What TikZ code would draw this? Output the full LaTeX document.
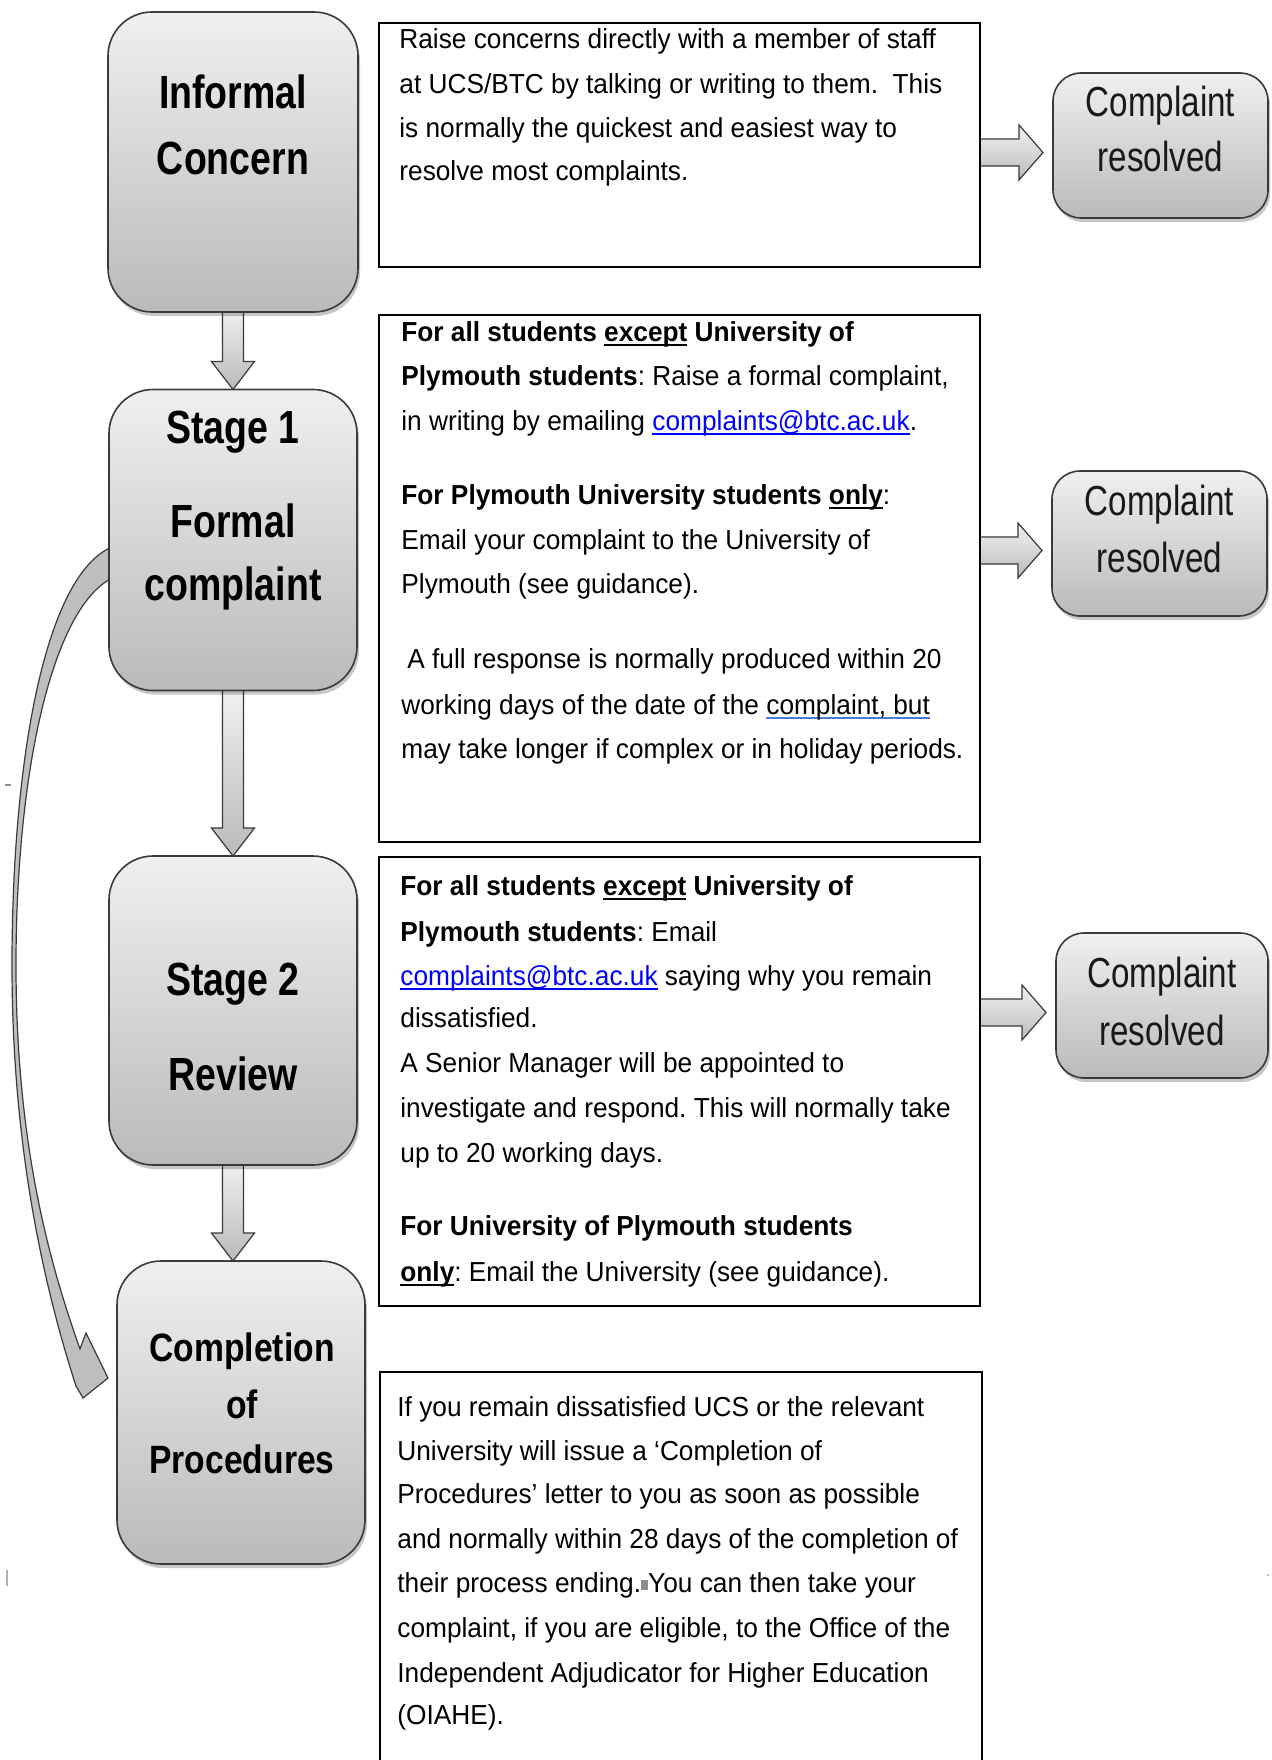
\documentclass[tikz,border=0pt]{standalone}
\usepackage{fontspec}
\usetikzlibrary{calc,shadows}
\newfontfamily\bodyf{Liberation Sans}[FakeStretch=0.955]
\newfontfamily\boxf{Liberation Sans}[FakeStretch=0.806]
\newfontfamily\boxfb{Liberation Sans}[FakeStretch=0.85]
\newfontfamily\resf{Liberation Sans}[FakeStretch=0.79]
\definecolor{linkblue}{HTML}{0000FF}
\definecolor{gramblue}{HTML}{4A7BD8}
\definecolor{edgegray}{HTML}{3A3A3A}
\pgfdeclarelayer{bg}
\pgfdeclarelayer{background}
\pgfsetlayers{bg,background,main}
\frenchspacing
\newcommand\myul[1]{\leavevmode\setbox0\hbox{#1}\rlap{\rule[-2.6pt]{\wd0}{0.9pt}}\box0\relax}
\newcommand\gramul[1]{\leavevmode\setbox0\hbox{#1}\rlap{\textcolor{gramblue}{\rule[-2.6pt]{\wd0}{1pt}}}\box0\relax}
\newcommand\mailaddr{\textcolor{linkblue}{\myul{complaints@btc.ac.uk}}}
\newcommand\tline[4]{\node[btxt] (#1) at (#2,#3) {#4};}
\newcommand\fatdown[2]{%
  \path[fatarrow] let \p1=(#1.south), \p2=(#2.north) in
  (\x1-5.25pt,\y1+3pt) -- (\x1-5.25pt,\y2+14pt) -- (\x1-10.75pt,\y2+14pt) -- (\x1,\y2)
  -- (\x1+10.75pt,\y2+14pt) -- (\x1+5.25pt,\y2+14pt) -- (\x1+5.25pt,\y1+3pt) -- cycle;}
\newcommand\fatright[2]{%
  \path[fatarrow] let \p1=(#1.east), \p2=(#2.west) in
  (\x1-3pt,\y2+3.25pt) -- (\x2-17pt,\y2+3.25pt) -- (\x2-17pt,\y2+10.25pt) -- (\x2-5pt,\y2-3.5pt)
  -- (\x2-17pt,\y2-17.25pt) -- (\x2-17pt,\y2-10.25pt) -- (\x1-3pt,\y2-10.25pt) -- cycle;}
\tikzset{
  stagebox/.style={rounded corners=22pt, draw=edgegray, line width=0.8pt,
    top color=black!6, bottom color=black!27, minimum width=124pt,
    inner sep=0pt, outer sep=0pt,
    drop shadow={shadow xshift=1pt, shadow yshift=-2pt, opacity=0.22, fill=black}},
  resbox/.style={stagebox, rounded corners=14pt, minimum width=107.5pt, minimum height=72.5pt},
  tbox/.style={draw=black, line width=0.8pt, fill=white, inner sep=0pt, outer sep=0pt},
  btxt/.style={font=\bodyf\fontsize{13.75}{16}\selectfont, inner sep=0pt, anchor=base west, text=black},
  slabel/.style={font=\boxf\bfseries\fontsize{23.25}{26}\selectfont, inner sep=0pt, anchor=base, text=black},
  clabel/.style={font=\boxfb\bfseries\fontsize{19.8}{23}\selectfont, inner sep=0pt, anchor=base, text=black},
  rlabel/.style={font=\resf\fontsize{21}{24}\selectfont, inner sep=0pt, anchor=base, text=black!90},
  fatarrow/.style={draw=edgegray, line width=0.6pt, top color=black!5, bottom color=black!27},
  curvearrow/.style={draw=edgegray, line width=0.6pt, fill=black!25},
  stray/.style={draw=black!45, line width=0.7pt}
}
\begin{document}
\begin{tikzpicture}[x=0.5pt,y=-0.5pt]
\useasboundingbox (0,0) rectangle (1271,1760);
\begin{pgfonlayer}{bg}
\fill[white] (0,0) rectangle (1271,1760);
\end{pgfonlayer}
\clip (0,0) rectangle (1271,1760);

% stage boxes
\node[stagebox, minimum width=125pt, minimum height=150pt] (ic) at (233,162) {};
\node[stagebox, minimum height=150.5pt] (s1) at (233,540) {};
\node[stagebox, minimum height=154.5pt] (s2) at (233,1010.5) {};
\node[stagebox, minimum height=151.5pt] (cp) at (241,1412.5) {};
% resolved boxes
\node[resbox] (cr1) at (1160.5,145.5) {};
\node[resbox] (cr2) at (1159.5,543.5) {};
\node[resbox, minimum width=106pt] (cr3) at (1162,1005.5) {};
% text boxes
\node[tbox, minimum width=300.5pt, minimum height=122pt] (tb1) at (679.5,145) {};
\node[tbox, minimum width=300.5pt, minimum height=263.5pt] (tb2) at (679.5,578.5) {};
\node[tbox, minimum width=300.5pt, minimum height=224.5pt] (tb3) at (679.5,1081.5) {};
\node[tbox, minimum width=301pt, minimum height=220pt] (tb4) at (681,1592) {};

% connectors behind the boxes
\begin{pgfonlayer}{background}
\fatdown{ic}{s1}
\fatdown{s1}{s2}
\fatdown{s2}{cp}
\fatright{tb1}{cr1}
\fatright{tb2}{cr2}
\fatright{tb3}{cr3}
\path[curvearrow] ($(s1.west)+(3,7)$) .. controls (45,575) and (12,760) .. (12,965)
  .. controls (12,1150) and (45,1290) .. ($(cp.west)+(-41,-26.5)$)
  -- ($(cp.west)+(-34,-14.5)$) -- ($(cp.west)+(-9,-34.5)$) -- ($(cp.west)+(-31,-79.5)$)
  -- ($(cp.west)+(-37,-63.5)$) .. controls (52,1270) and (16,1150) .. (16,965)
  .. controls (16,780) and (50,610) .. ($(s1.west)+(3,38)$) -- cycle;
\end{pgfonlayer}

% stage labels
\node[slabel] (icl1) at (233,109) {Informal};
\node[slabel] (icl2) at (233,175) {Concern};
\node[slabel] (s1l1) at (233,443) {Stage 1};
\node[slabel] (s1l2) at (233,537) {Formal};
\node[slabel] (s1l3) at (233,600) {complaint};
\node[slabel] (s2l1) at (233,995) {Stage 2};
\node[slabel] (s2l2) at (233,1090) {Review};
\node[clabel] (cpl1) at (242,1361) {Completion};
\node[clabel] (cpl2) at (242,1418) {of};
\node[clabel] (cpl3) at (242,1473) {Procedures};

% resolved labels
\node[rlabel] (r1a) at (1160.5,117) {Complaint};
\node[rlabel] (r1b) at (1160.5,172) {resolved};
\node[rlabel] (r2a) at (1159.5,515) {Complaint};
\node[rlabel] (r2b) at (1159.5,572) {resolved};
\node[rlabel] (r3a) at (1162,987) {Complaint};
\node[rlabel] (r3b) at (1162,1045) {resolved};

% box 1 text
\tline{a1}{399}{49}{Raise concerns directly with a member of staff}
\tline{a2}{399}{94}{at UCS/BTC by talking or writing to them.\ \ This}
\tline{a3}{399}{138}{is normally the quickest and easiest way to}
\tline{a4}{399}{181}{resolve most complaints.}

% box 2 text
\tline{b1}{401}{341}{\bfseries For all students \myul{except} University of}
\tline{b2}{401}{385}{{\bfseries Plymouth students}: Raise a formal complaint,}
\tline{b3}{401}{430}{in writing by emailing \mailaddr.}
\tline{b4}{401}{504}{{\bfseries For Plymouth University students \myul{only}}:}
\tline{b5}{401}{549}{Email your complaint to the University of}
\tline{b6}{401}{593}{Plymouth (see guidance).}
\tline{b7}{407}{668}{A full response is normally produced within 20}
\tline{b8}{401}{714}{working days of the date of the \gramul{complaint, but}}
\tline{b9}{401}{758}{may take longer if complex or in holiday periods.}

% box 3 text
\tline{c1}{400}{895}{\bfseries For all students \myul{except} University of}
\tline{c2}{400}{941}{{\bfseries Plymouth students}: Email}
\tline{c3}{400}{985}{\mailaddr{} saying why you remain}
\tline{c4}{400}{1027}{dissatisfied.}
\tline{c5}{400}{1072}{A Senior Manager will be appointed to}
\tline{c6}{400}{1117}{investigate and respond. This will normally take}
\tline{c7}{400}{1162}{up to 20 working days.}
\tline{c8}{400}{1235}{\bfseries For University of Plymouth students}
\tline{c9}{400}{1281}{{\bfseries\myul{only}}: Email the University (see guidance).}

% box 4 text
\tline{d1}{397}{1416}{If you remain dissatisfied UCS or the relevant}
\tline{d2}{397}{1460}{University will issue a ‘Completion of}
\tline{d3}{397}{1503}{Procedures’ letter to you as soon as possible}
\tline{d4}{397}{1548}{and normally within 28 days of the completion of}
\tline{d5}{397}{1592}{their process ending.\textcolor{black!45}{\rule[1pt]{3.5pt}{5pt}}You can then take your}
\tline{d6}{397}{1637}{complaint, if you are eligible, to the Office of the}
\tline{d7}{397}{1682}{Independent Adjudicator for Higher Education}
\tline{d8}{397}{1724}{(OIAHE).}

% stray marks
\path[stray] (5,785) -- (11,785);
\path[stray, draw=black!30] (7,1570) -- (7,1586);
\path[stray, draw=black!25] (1267,1575) -- (1269,1575);
\end{tikzpicture}
\end{document}
